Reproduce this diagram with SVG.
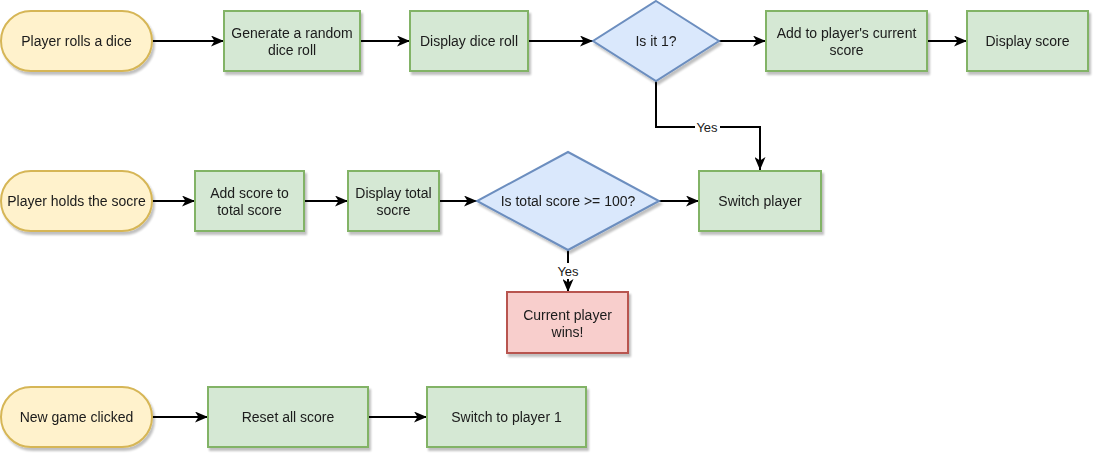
<svg xmlns="http://www.w3.org/2000/svg" width="1100" height="460" viewBox="0 0 1100 460">
<defs>
<filter id="sh" x="-10%" y="-10%" width="130%" height="140%">
<feGaussianBlur in="SourceAlpha" stdDeviation="1.2"/>
<feOffset dx="2" dy="3" result="b"/>
<feComponentTransfer><feFuncA type="linear" slope="0.25"/></feComponentTransfer>
<feMerge><feMergeNode/><feMergeNode in="SourceGraphic"/></feMerge>
</filter>
<marker id="arr" markerUnits="userSpaceOnUse" markerWidth="13" markerHeight="11" viewBox="0 0 13 11" refX="13" refY="5.5" orient="auto">
<path d="M0,0 L13,5.5 L0,11 L3.5,5.5 Z" fill="#000"/>
</marker>
</defs>
<style>
.term{fill:#fff2cc;stroke:#d6b656;stroke-width:2}
.proc{fill:#d5e8d4;stroke:#82b366;stroke-width:2}
.dec{fill:#dae8fc;stroke:#6c8ebf;stroke-width:2}
.end{fill:#f8cecc;stroke:#b85450;stroke-width:2}
text{font-family:"Liberation Sans",Arial,sans-serif;font-size:14px;fill:#1a1a1a;text-anchor:middle}
text.y{font-size:13px}
.c{fill:none;stroke:#000;stroke-width:2;marker-end:url(#arr)}
.lbl{fill:#fff}
</style>
<rect width="1100" height="460" fill="#fff"/>
<g id="connectors">
<path class="c" d="M152,41 H224"/>
<path class="c" d="M360,41 H410"/>
<path class="c" d="M528,41 H593"/>
<path class="c" d="M719,41 H766"/>
<path class="c" d="M927,41 H967"/>
<path class="c" d="M656,81 V127 H760 V170"/>
<rect class="lbl" x="695" y="119" width="25" height="16"/>
<text class="y" x="707" y="132">Yes</text>
<path class="c" d="M152,201 H195"/>
<path class="c" d="M304,201 H348"/>
<path class="c" d="M439,201 H477"/>
<path class="c" d="M659,201 H699"/>
<path class="c" d="M568,250 V292"/>
<rect class="lbl" x="556" y="263" width="25" height="16"/>
<text class="y" x="568" y="276">Yes</text>
<path class="c" d="M152,417 H208"/>
<path class="c" d="M368,417 H427"/>
</g>
<g id="n1" filter="url(#sh)"><rect class="term" x="1" y="11" width="151" height="60" rx="30"/><text x="76.5" y="46">Player rolls a dice</text></g>
<g id="n2" filter="url(#sh)"><rect class="proc" x="224" y="11" width="136" height="60"/><text x="292" y="38">Generate a random</text><text x="292" y="55">dice roll</text></g>
<g id="n3" filter="url(#sh)"><rect class="proc" x="410" y="11" width="118" height="60"/><text x="469" y="46">Display dice roll</text></g>
<g id="n4" filter="url(#sh)"><polygon class="dec" points="656,1 719,41 656,81 593,41"/><text x="656" y="46">Is it 1?</text></g>
<g id="n5" filter="url(#sh)"><rect class="proc" x="766" y="11" width="161" height="60"/><text x="846.5" y="38">Add to player's current</text><text x="846.5" y="55">score</text></g>
<g id="n6" filter="url(#sh)"><rect class="proc" x="967" y="11" width="121" height="60"/><text x="1027.5" y="46">Display score</text></g>
<g id="n7" filter="url(#sh)"><rect class="term" x="1" y="171" width="151" height="60" rx="30"/><text x="76.5" y="206">Player holds the socre</text></g>
<g id="n8" filter="url(#sh)"><rect class="proc" x="195" y="171" width="109" height="60"/><text x="249.5" y="198">Add score to</text><text x="249.5" y="215">total score</text></g>
<g id="n9" filter="url(#sh)"><rect class="proc" x="348" y="171" width="91" height="60"/><text x="393.5" y="198">Display total</text><text x="393.5" y="215">socre</text></g>
<g id="n10" filter="url(#sh)"><polygon class="dec" points="568,152 659,201 568,250 477,201"/><text x="568" y="206">Is total score &gt;= 100?</text></g>
<g id="n11" filter="url(#sh)"><rect class="proc" x="699" y="171" width="122" height="60"/><text x="760" y="206">Switch player</text></g>
<g id="n12" filter="url(#sh)"><rect class="end" x="507" y="292" width="121" height="61"/><text x="567.5" y="320">Current player</text><text x="567.5" y="337">wins!</text></g>
<g id="n13" filter="url(#sh)"><rect class="term" x="1" y="387" width="151" height="60" rx="30"/><text x="76.5" y="422">New game clicked</text></g>
<g id="n14" filter="url(#sh)"><rect class="proc" x="208" y="387" width="160" height="60"/><text x="288" y="422">Reset all score</text></g>
<g id="n15" filter="url(#sh)"><rect class="proc" x="427" y="387" width="159" height="60"/><text x="506.5" y="422">Switch to player 1</text></g>
</svg>
